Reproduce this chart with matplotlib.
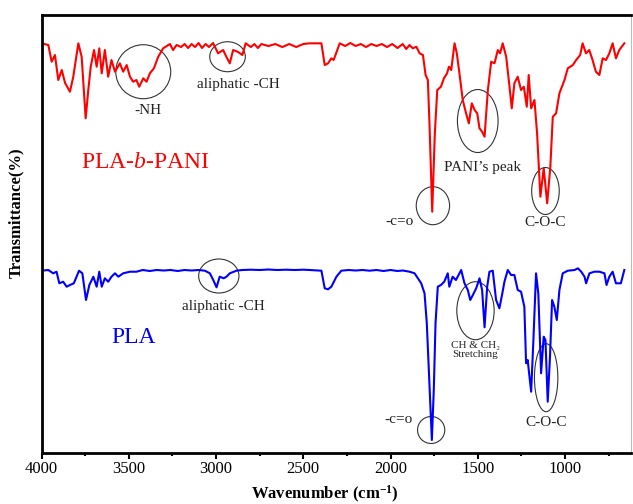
import matplotlib
matplotlib.use("Agg")
from matplotlib import rcParams
rcParams['font.family'] = ['Liberation Serif', 'DejaVu Serif']
rcParams['mathtext.fontset'] = 'custom'
rcParams['mathtext.rm'] = 'Liberation Serif'
rcParams['mathtext.it'] = 'Liberation Serif:italic'
rcParams['mathtext.bf'] = 'Liberation Serif:bold'

import matplotlib.pyplot as plt
from matplotlib.patches import Ellipse
from matplotlib.ticker import MultipleLocator

# PLA-b-PANI spectrum (wavenumber, transmittance in arbitrary offset units)
pani_wn = [4000, 3961, 3942, 3923, 3904, 3884, 3865, 3837, 3818, 3789, 3770, 3747, 3732, 3718,
           3699, 3684, 3669, 3655, 3637, 3618, 3599, 3579, 3551, 3532, 3512, 3493, 3475, 3456,
           3440, 3417, 3398, 3379, 3356, 3331, 3303, 3264, 3246, 3226, 3200, 3180, 3160, 3140,
           3120, 3100, 3080, 3060, 3040, 3017, 2988, 2959, 2940, 2921, 2902, 2873, 2849, 2830,
           2800, 2780, 2760, 2740, 2700, 2660, 2620, 2580, 2540, 2500, 2463, 2396, 2377, 2358,
           2339, 2326, 2291, 2260, 2230, 2200, 2170, 2140, 2110, 2080, 2050, 2020, 1990, 1960,
           1930, 1910, 1891, 1872, 1852, 1833, 1814, 1799, 1786, 1776, 1761, 1746, 1732, 1711,
           1694, 1676, 1665, 1652, 1633, 1620, 1605, 1586, 1567, 1551, 1534, 1518, 1503, 1490,
           1475, 1461, 1442, 1423, 1404, 1385, 1372, 1357, 1337, 1318, 1305, 1290, 1271, 1252,
           1236, 1219, 1208, 1194, 1175, 1160, 1141, 1122, 1102, 1084, 1070, 1051, 1032, 1003,
           984, 955, 936, 913, 899, 880, 861, 842, 823, 803, 784, 765, 746, 727, 708, 689, 660]
pani_t = [409.7, 408, 391.3, 398, 373, 383, 370, 361.3, 376.3, 409.7, 396.3, 334.7, 363, 386.3,
          403, 386.3, 404.7, 379.7, 403, 376.3, 393, 381.3, 389.7, 381.3, 388, 376.3, 371.3, 373,
          366.3, 374.7, 371.3, 379.7, 384.7, 396.3, 404.7, 409, 403, 408, 406, 409, 405, 409,
          406, 410, 405, 409, 406, 410, 399.7, 403, 396, 389.7, 403, 401, 398, 409.7,
          406, 409, 405, 409, 407, 409, 406, 409, 406, 409, 409.7, 409.7, 388, 389.7,
          394.7, 393, 409.7, 407, 410, 407, 409, 406, 409, 407, 409, 406, 409, 405,
          409, 404, 408, 404.7, 406.3, 399.7, 398, 378, 373, 326.3, 241.3, 319.7, 363, 366.3,
          374.7, 379.7, 386.3, 383, 409.7, 399.7, 379.7, 353, 339.7, 329.7, 349.7, 343, 339.7, 324.7,
          321.3, 316.3, 363, 391.3, 389.7, 403, 399.7, 409.7, 396.3, 366.3, 344.7, 369.7, 376.3, 363,
          366.3, 346.3, 378, 344.7, 353, 319.7, 256.3, 284.7, 249.7, 286.3, 336.3, 339.7, 359.7, 373,
          384.7, 388, 393, 398, 409.7, 399.7, 403, 393, 381.3, 378, 394.7, 393, 399.7, 409.7, 394.7, 403, 409.7]

# PLA spectrum
pla_wn = [4000, 3961, 3933, 3914, 3898, 3876, 3856, 3837, 3815, 3799, 3785, 3766, 3745, 3726,
          3703, 3684, 3669, 3655, 3637, 3618, 3599, 3579, 3560, 3532, 3493, 3456, 3420, 3380,
          3340, 3300, 3260, 3220, 3180, 3140, 3100, 3064, 3035, 3016, 2997, 2979, 2956, 2940,
          2921, 2883, 2850, 2800, 2750, 2700, 2650, 2600, 2550, 2500, 2463, 2396, 2377, 2358,
          2339, 2310, 2282, 2240, 2200, 2160, 2120, 2080, 2040, 2000, 1960, 1930, 1891, 1862,
          1843, 1824, 1805, 1792, 1776, 1763, 1752, 1742, 1729, 1711, 1692, 1672, 1663, 1644,
          1625, 1595, 1576, 1557, 1543, 1528, 1509, 1490, 1475, 1461, 1446, 1433, 1414, 1395,
          1376, 1361, 1347, 1328, 1309, 1290, 1271, 1252, 1233, 1223, 1214, 1194, 1181, 1166,
          1153, 1137, 1122, 1112, 1099, 1086, 1074, 1061, 1047, 1032, 1013, 984, 945, 926,
          907, 888, 879, 860, 832, 803, 774, 762, 746, 727, 708, 680, 660]
pla_t = [182.3, 183, 179.7, 181.3, 169.7, 171.3, 166.3, 168, 169.7, 176.3, 182.3, 179.7, 153, 168,
         176.3, 166.3, 181.3, 166.3, 174.7, 171.3, 176.3, 179.7, 176.3, 179.7, 181.3, 181.3, 183, 182,
         183, 182.5, 183, 182, 183, 182.5, 183, 182.3, 179.7, 173, 165.7, 176.3, 174.7, 176.3,
         179.7, 182.3, 183, 183.3, 183, 183.5, 183, 183.3, 183, 183.3, 183, 182.3, 164.7, 163.7,
         166.3, 176.3, 182.3, 183, 182.5, 183, 182.3, 183, 182, 183, 182, 182.5, 181.3, 179.7,
         174.7, 169.7, 159.7, 129.7, 66.3, 13, 63, 129.7, 166.3, 168, 171.3, 179.7, 166.3, 176.3,
         173, 183, 169.7, 163, 153, 158, 164.7, 174.7, 163, 125.7, 166.3, 181.3, 182.3, 153,
         144.7, 158, 171.3, 183, 178, 178, 163, 161.3, 146.3, 89.7, 93, 61.3, 113, 179.7,
         159.7, 79.7, 116.3, 113, 51.3, 96.3, 153, 146.3, 133, 163, 179.7, 182.3, 183, 184.7,
         181.3, 176.3, 169.7, 179.7, 181.3, 181.3, 179.7, 168, 176.3, 181.3, 169.7, 169.7, 183]

# band markers: (centre wn, centre T, width, height)
ellipses = [(3417, 381.3, 315, 54), (2934, 396.3, 204, 30), (1500, 332, 233, 63),
            (1757, 247.3, 191, 38), (1112, 262, 158, 47), (2984, 177, 231, 34),
            (1513, 142.3, 214, 58), (1108, 75.3, 134, 68), (1767, 23, 156, 27)]
notes = [("-NH", 3389, 343), ("aliphatic -CH", 2873, 369), ("PANI\u2019s peak", 1474, 286),
         ("-c=o", 1948, 232), ("C-O-C", 1112, 231), ("aliphatic -CH", 2955, 147),
         ("-c=o", 1952, 33), ("C-O-C", 1108, 30)]

fig = plt.figure(figsize=(6.33, 5.04), dpi=100)
ax = fig.add_axes([0.0656, 0.1012, 0.932, 0.869])

ax.plot(pani_wn, pani_t, color='#ff0000', lw=1.5)
ax.plot(pla_wn, pla_t, color='#0000ff', lw=1.5)

for x, y, w, h in ellipses:
    ax.add_patch(Ellipse((x, y), w, h, fill=False, ec='#333333', lw=0.8))
for s, x, y in notes:
    ax.text(x, y, s, ha='center', va='center', fontsize=11, color='#222222')
ax.text(1514, 103, "CH & CH\u2082\nStretching", ha='center', va='center', fontsize=8,
        color='#222222', linespacing=1.1)

ax.text(3774, 291, r"PLA-$\it{b}$-PANI", color='#ff0000', fontsize=17, ha='left', va='center')
ax.text(3598, 116, "PLA", color='#0000ff', fontsize=17, ha='left', va='center')

ax.set_xlim(4000, 619)
ax.set_ylim(0, 438)
ax.xaxis.set_major_locator(MultipleLocator(500))
ax.xaxis.set_minor_locator(MultipleLocator(250))
ax.tick_params(axis='x', which='major', direction='out', length=4, width=1.5, labelsize=12, pad=2)
ax.tick_params(axis='x', which='minor', direction='out', length=2.5, width=1.5)
ax.set_yticks([])
for side in ['left', 'bottom', 'top']:
    ax.spines[side].set_linewidth(2)
ax.spines['right'].set_linewidth(0.8)
ax.spines['right'].set_color('#bbbbbb')

ax.set_xlabel(r"Wavenumber (cm$^{\mathbf{-1}}$)", fontsize=12, fontweight='bold')
ax.xaxis.set_label_coords(0.4805, -0.07)
ax.set_ylabel("Transmittance(%)", fontsize=12, fontweight='bold')
ax.yaxis.set_label_coords(-0.03, 0.548)

plt.savefig("out.png", dpi=100)
